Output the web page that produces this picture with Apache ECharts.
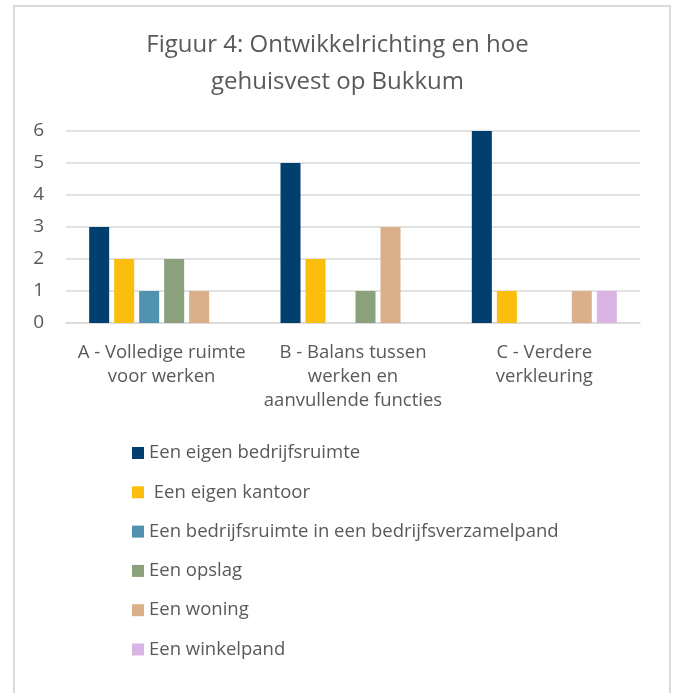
<!DOCTYPE html>
<html>
<head>
<meta charset="utf-8">
<script src="https://cdn.jsdelivr.net/npm/echarts@6/dist/echarts.min.js"></script>
<style>
html,body{margin:0;padding:0;background:#fff;}
#chart{width:675px;height:693px;}
</style>
</head>
<body>
<div id="chart"></div>
<script>
const categories = ["A - Volledige ruimte\nvoor werken", "B - Balans tussen\nwerken en\naanvullende functies", "C - Verdere\nverkleuring"];
const seriesNames = ["Een eigen bedrijfsruimte", " Een eigen kantoor", "Een bedrijfsruimte in een bedrijfsverzamelpand", "Een opslag", "Een woning", "Een winkelpand"];
const eigenBedrijfsruimte = [3, 5, 6];
const eigenKantoor = [2, 2, 1];
const bedrijfsverzamelpand = [1, null, null];
const opslag = [2, 1, null];
const woning = [1, 3, 1];
const winkelpand = [null, null, 1];
const yTicks = [0, 1, 2, 3, 4, 5, 6];

const values = [eigenBedrijfsruimte, eigenKantoor, bedrijfsverzamelpand, opslag, woning, winkelpand];
const colors = ["#003f6e", "#fbbe0d", "#5092b0", "#8ba17c", "#d9b08a", "#d9b5e5"];

const chart = echarts.init(document.getElementById('chart'), null, {renderer: 'canvas'});
const font = "'Open Sans', sans-serif";
chart.setOption({
  animation: false,
  backgroundColor: '#ffffff',
  graphic: [{
    type: 'rect',
    shape: {x: 14, y: 6, width: 656, height: 720},
    style: {fill: 'none', stroke: '#d9d9d9', lineWidth: 2},
    silent: true
  }],
  title: {
    text: "Figuur 4: Ontwikkelrichting en hoe\ngehuisvest op Bukkum",
    left: 'center',
    top: 27,
    padding: 0,
    textStyle: {fontFamily: font, fontSize: 24, fontWeight: 'normal', color: '#595959', lineHeight: 37}
  },
  legend: {
    orient: 'vertical',
    left: 132,
    top: 443,
    padding: 0,
    itemWidth: 12,
    itemHeight: 12,
    itemGap: 19.3,
    icon: 'rect',
    textStyle: {fontFamily: font, fontSize: 18.5, color: '#595959', lineHeight: 20},
    data: seriesNames
  },
  grid: {left: 66, right: 35, top: 131, bottom: 370, containLabel: false},
  xAxis: {
    type: 'category',
    data: categories,
    axisLine: {show: true, lineStyle: {color: '#d9d9d9', width: 1.5}},
    axisTick: {show: false},
    axisLabel: {fontFamily: font, fontSize: 18.5, color: '#595959', lineHeight: 24, margin: 18, interval: 0}
  },
  yAxis: {
    type: 'value',
    min: yTicks[0],
    max: yTicks[yTicks.length - 1],
    interval: 1,
    axisLine: {show: false},
    axisTick: {show: false},
    axisLabel: {fontFamily: font, fontSize: 19, color: '#595959', margin: 22},
    splitLine: {lineStyle: {color: '#d9d9d9', width: 1.5}}
  },
  series: values.map((v, i) => ({
    name: seriesNames[i],
    type: 'bar',
    data: v,
    barWidth: 20,
    barGap: '25%',
    itemStyle: {color: colors[i]}
  }))
});
</script>
</body>
</html>
